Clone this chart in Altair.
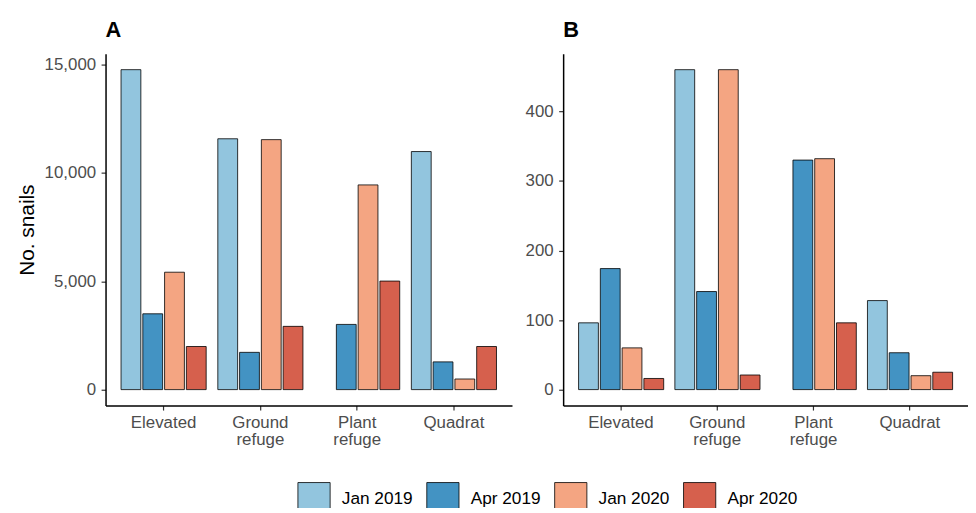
import altair as alt
import pandas as pd

categories = ["Elevated", "Ground refuge", "Plant refuge", "Quadrat"]
series = ["Jan 2019", "Apr 2019", "Jan 2020", "Apr 2020"]
colors = ["#92C5DE", "#4393C3", "#F4A582", "#D6604D"]

# Panel A values (No. snails), None = no bar
a_jan2019 = [14770, 11580, None, 10990]
a_apr2019 = [3500, 1720, 3010, 1280]
a_jan2020 = [5420, 11540, 9450, 490]
a_apr2020 = [1990, 2920, 5010, 1990]

# Panel B values
b_jan2019 = [96, 460, None, 128]
b_apr2019 = [174, 141, 330, 53]
b_jan2020 = [60, 460, 332, 20]
b_apr2020 = [16, 21, 96, 25]

a_ticks = [0, 5000, 10000, 15000]
b_ticks = [0, 100, 200, 300, 400]


def frame(cols):
    rows = []
    for s, vals in zip(series, cols):
        for c, v in zip(categories, vals):
            if v is not None:
                rows.append({"cat": c, "series": s, "value": v})
    return pd.DataFrame(rows)


df_a = frame([a_jan2019, a_apr2019, a_jan2020, a_apr2020])
df_b = frame([b_jan2019, b_apr2019, b_jan2020, b_apr2020])

FONT = "Liberation Sans"


def panel(df, letter, ticks, domain, width, show_title, legend):
    color_kw = {}
    if legend:
        color_kw["legend"] = alt.Legend(
            title=None,
            orient="none",
            direction="horizontal",
            legendX=193.3,
            legendY=431.8,
            symbolType="square",
            symbolSize=1056,
            symbolStrokeColor="black",
            symbolStrokeWidth=0.8,
            symbolOpacity=1,
            labelFontSize=17.4,
            labelFont=FONT,
            labelColor="black",
            labelOffset=11,
            columnPadding=12,
            padding=0,
        )
    else:
        color_kw["legend"] = None
    y_axis = alt.Axis(
        values=ticks,
        format=",.0f",
        title="No. snails" if show_title else None,
    )
    return (
        alt.Chart(df)
        .mark_bar(stroke="black", strokeWidth=0.8)
        .encode(
            x=alt.X(
                "cat:N",
                sort=categories,
                scale=alt.Scale(domain=categories, paddingInner=0.1, paddingOuter=0.15),
                axis=alt.Axis(title=None, labelExpr="split(datum.label, ' ')"),
            ),
            xOffset=alt.XOffset(
                "series:N",
                sort=series,
                scale=alt.Scale(domain=series, paddingInner=0.09, paddingOuter=0.045),
            ),
            y=alt.Y(
                "value:Q",
                scale=alt.Scale(domain=domain, nice=False, zero=False),
                axis=y_axis,
            ),
            color=alt.Color(
                "series:N",
                sort=series,
                scale=alt.Scale(domain=series, range=colors),
                **color_kw,
            ),
        )
        .properties(
            width=width,
            height=355,
            title=alt.TitleParams(
                letter,
                anchor="start",
                frame="group",
                fontSize=22,
                fontWeight="bold",
                font=FONT,
                color="black",
                offset=12.3,
            ),
        )
    )


chart_a = panel(df_a, "A", a_ticks, [-738, 15508], 410, True, True)
chart_b = panel(df_b, "B", b_ticks, [-23, 483], 408, False, False)

chart = (
    alt.hconcat(chart_a, chart_b, spacing=12.6)
    .resolve_scale(y="independent")
    .properties(padding={"left": 8.4, "top": 7.9, "right": 0, "bottom": -11})
    .configure_view(stroke=None)
    .configure_axis(
        grid=False,
        domainColor="black",
        domainWidth=1.5,
        tickColor="#333333",
        tickWidth=1.2,
        tickSize=4.5,
        labelFont=FONT,
        labelFontSize=17,
        labelColor="#4d4d4d",
        labelPadding=5.5,
        labelLineHeight=17.3,
        titleFont=FONT,
        titleFontSize=21,
        titleFontWeight="normal",
        titleColor="black",
        titlePadding=6.3,
        labelAngle=0,
    )
    .configure_axisX(labelPadding=4.9)
)

chart.save("out.html", embed_options={"renderer": "svg", "actions": False})
